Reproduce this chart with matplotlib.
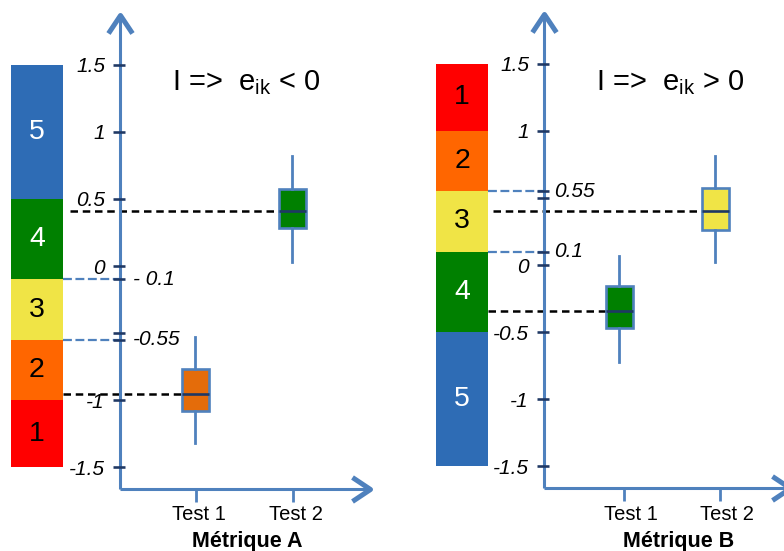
import numpy as np
import matplotlib
matplotlib.use("Agg")
import matplotlib.pyplot as plt
from matplotlib.path import Path

plt.rcParams["font.family"] = ["Liberation Sans", "DejaVu Sans"]
plt.rcParams["mathtext.default"] = "regular"

# ============================================================
# DATA
# ============================================================

tests = ["Test 1", "Test 2"]
metrics = ["Métrique A", "Métrique B"]
titles = [r"I =>  e$_{ik}$ < 0", r"I =>  e$_{ik}$ > 0"]

yticks = [-1.5, -1, -0.5, 0, 0.5, 1, 1.5]
a_ytick_labels = ["-1.5", "-1", "", "0", "0.5", "1", "1.5"]
b_ytick_labels = ["-1.5", "-1", "-0.5", "0", "", "1", "1.5"]

# class bands (top -> bottom)
a_edges = [1.5, 0.5, -0.1, -0.55, -1.0, -1.5]
a_classes = ["5", "4", "3", "2", "1"]
b_edges = [1.5, 1.0, 0.55, 0.1, -0.5, -1.5]
b_classes = ["1", "2", "3", "4", "5"]

a_thresholds = [-0.1, -0.55]
a_thr_labels = ["- 0.1", "-0.55"]
b_thresholds = [0.55, 0.1]
b_thr_labels = ["0.55", "0.1"]

# box statistics (Test 1, Test 2)
a_whislo = [-1.32, 0.03]
a_q1 = [-1.08, 0.28]
a_med = [-0.95, 0.41]
a_q3 = [-0.77, 0.57]
a_whishi = [-0.53, 0.82]

b_whislo = [-0.72, 0.02]
b_q1 = [-0.47, 0.26]
b_med = [-0.34, 0.40]
b_q3 = [-0.16, 0.57]
b_whishi = [0.07, 0.81]

# ============================================================
# STYLE
# ============================================================

CLASS_COLORS = {"1": "#FF0000", "2": "#FF6600", "3": "#F0E446",
                "4": "#008000", "5": "#2E6CB5"}
CLASS_TEXT = {"1": "black", "2": "black", "3": "black",
              "4": "white", "5": "white"}
a_box_colors = ["#E46C0A", "#008000"]
b_box_colors = ["#008000", "#F0E446"]

AXIS_BLUE = "#4F81BD"
NAVY = "#1F3864"

FIG_W, FIG_H = 784, 551
S = 134.3  # px per y unit
PT = 72 / 100  # px -> pt

# panel geometry in pixels
panels = [
    dict(left=0, width=392, t1=195, step=97, y0=266, yax=120, xax=489,
         ytip=15, xtip=370, bar=(11, 63), dash_start=[63, 70], xtick_off=1,
         label_off=4, thr_off=13),
    dict(left=392, width=392, t1=619, step=96, y0=265, yax=544, xax=488,
         ytip=14, xtip=790, bar=(436, 488), dash_start=[488, 493], xtick_off=5,
         label_off=12, thr_off=10),
]

up_head = Path([(-12, -18), (0, 0), (12, -18)],
               [Path.MOVETO, Path.LINETO, Path.LINETO])
right_head = Path([(-18, 12), (0, 0), (-18, -12)],
                  [Path.MOVETO, Path.LINETO, Path.LINETO])

fig = plt.figure(figsize=(FIG_W / 100, FIG_H / 100), dpi=100)

all_data = [
    (a_edges, a_classes, a_thresholds, a_thr_labels, a_ytick_labels,
     [a_whislo, a_q1, a_med, a_q3, a_whishi], a_box_colors),
    (b_edges, b_classes, b_thresholds, b_thr_labels, b_ytick_labels,
     [b_whislo, b_q1, b_med, b_q3, b_whishi], b_box_colors),
]

for i, (g, d) in enumerate(zip(panels, all_data)):
    edges, classes, thr, thr_labels, ylabels, stats, box_colors = d
    whislo, q1, med, q3, whishi = stats

    ax = fig.add_axes([g["left"] / FIG_W, 0, g["width"] / FIG_W, 1])
    ax.axis("off")

    def px(p, g=g):
        return 1 + (p - g["t1"]) / g["step"]

    def py(p, g=g):
        return (g["y0"] - p) / S

    yax = px(g["yax"])
    xax = py(g["xax"])

    # class colour bar
    edges = np.array(edges)
    bottoms = edges[1:]
    heights = edges[:-1] - edges[1:]
    bx0, bx1 = px(g["bar"][0]), px(g["bar"][1])
    bxc = (bx0 + bx1) / 2
    ax.bar([bxc] * len(classes), heights, bottom=bottoms, width=bx1 - bx0,
           color=[CLASS_COLORS[c] for c in classes], linewidth=0, zorder=1)
    for c, b, h in zip(classes, bottoms, heights):
        ax.text(bxc, b + h / 2, c, ha="center", va="center", fontsize=20.5,
                color=CLASS_TEXT[c], zorder=2)

    # threshold dashed lines (blue)
    for t in thr:
        ax.plot([bx1, yax], [t, t], color=AXIS_BLUE, lw=1.6,
                dashes=(4, 1.6), zorder=1)

    # median dashed lines (black)
    positions = [1, 2]
    width = 27 / g["step"]
    for pos, m, start in zip(positions, med, g["dash_start"]):
        ax.plot([px(start), pos - width / 2], [m, m], color="black", lw=1.8,
                dashes=(3.0, 1.9), zorder=2)

    # boxes
    bstats = [dict(whislo=whislo[k], q1=q1[k], med=med[k], q3=q3[k],
                   whishi=whishi[k], fliers=[]) for k in range(2)]
    bp = ax.bxp(bstats, positions=positions, widths=width, patch_artist=True,
                showcaps=False, showfliers=False, manage_ticks=False,
                boxprops=dict(edgecolor=AXIS_BLUE, linewidth=1.9),
                whiskerprops=dict(color=AXIS_BLUE, linewidth=2.0),
                medianprops=dict(color=NAVY, linewidth=1.9), zorder=3)
    for patch, c in zip(bp["boxes"], box_colors):
        patch.set_facecolor(c)

    # axes lines with open arrow heads
    ax.plot([yax, yax], [xax, py(g["ytip"])], color=AXIS_BLUE, lw=2.2,
            solid_capstyle="butt", clip_on=False, zorder=2)
    ax.plot([yax], [py(g["ytip"])], marker=up_head, ms=36 * PT,
            mfc="none", mec=AXIS_BLUE, mew=5.0 * PT, clip_on=False)
    ax.plot([yax, px(g["xtip"])], [xax, xax], color=AXIS_BLUE, lw=2.2,
            solid_capstyle="butt", clip_on=False, zorder=2)
    ax.plot([px(g["xtip"])], [xax], marker=right_head, ms=36 * PT,
            mfc="none", mec=AXIS_BLUE, mew=5.0 * PT, clip_on=False)

    # y ticks
    all_ticks = list(yticks) + list(thr)
    ax.plot([px(g["yax"] - 1.5)] * len(all_ticks), all_ticks, ls="none",
            marker="_", ms=12 * PT, mew=2.6 * PT, color=NAVY, zorder=3)
    for t, lab in zip(yticks, ylabels):
        if lab:
            ax.text(px(g["yax"] - 15), t - 2 / S, lab, ha="right",
                    va="center", fontsize=15, style="italic")
    for t, lab in zip(thr, thr_labels):
        ax.text(px(g["yax"] + g["thr_off"]), t, lab, ha="left", va="center",
                fontsize=15, style="italic")

    # x ticks and labels
    for pos, lab in zip(positions, tests):
        xt = pos + g["xtick_off"] / g["step"]
        ax.plot([xt, xt], [xax, py(g["xax"] + 13)], color=AXIS_BLUE, lw=2.0,
                solid_capstyle="butt")
        ax.text(pos + g["label_off"] / g["step"], py(514), lab, ha="center",
                va="center", fontsize=14.5)
    ax.text(1.5 + g["label_off"] / g["step"], py(541), metrics[i],
            ha="center", va="center", fontsize=15.5, fontweight="bold")

    ax.text(px(g["yax"] + 52), py(90), titles[i], fontsize=21,
            va="baseline", ha="left")

    ax.set_xlim(px(g["left"]), px(g["left"] + g["width"]))
    ax.set_ylim(py(FIG_H), py(0))

fig.savefig("out.png", dpi=100)
